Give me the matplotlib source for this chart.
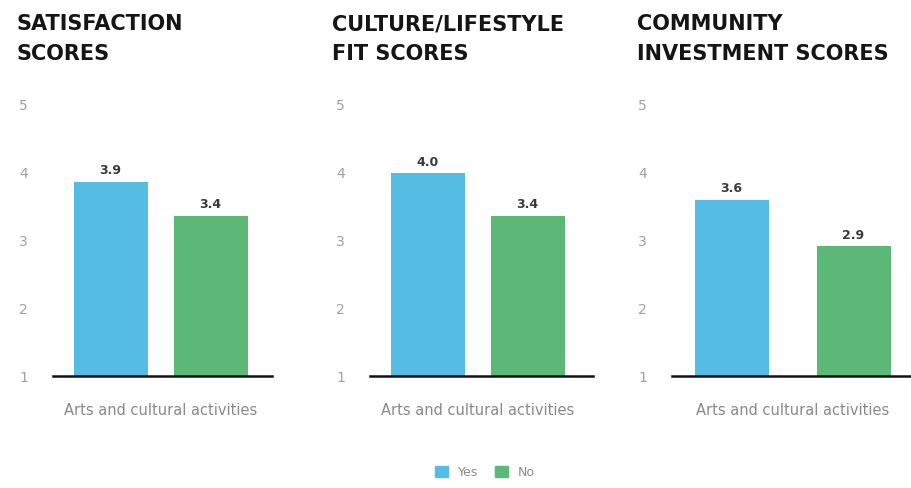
import matplotlib
matplotlib.use("Agg")
import matplotlib.pyplot as plt
from matplotlib.patches import Patch

# data
titles = ["SATISFACTION\nSCORES", "CULTURE/LIFESTYLE\nFIT SCORES", "COMMUNITY\nINVESTMENT SCORES"]
category = "Arts and cultural activities"
series = ["Yes", "No"]
yes_scores = [3.86, 3.98, 3.59]
no_scores = [3.36, 3.36, 2.91]
yticks = [1, 2, 3, 4, 5]

BLUE = "#55bce3"
GREEN = "#5cb877"

W, H = 911, 489
fig = plt.figure(figsize=(W / 100, H / 100), dpi=100)

# panel layout in pixels: axis left, axis right, px per bar step, first bar offset
panels = [
    (53, 272, 100, 57.5),
    (370, 593, 100, 57.5),
    (672, 935, 122, 59.5),
]
title_x = [17, 332, 637]
bar_w_px = 74
y_base, y_top = 377, 105

for i, (x0, x1, step, off) in enumerate(panels):
    ax = fig.add_axes([x0 / W, (H - y_base) / H, (x1 - x0) / W, (y_base - y_top) / H])
    ax.set_xlim(-off / step, (x1 - x0 - off) / step)
    ax.set_ylim(1, 5)
    vals = [yes_scores[i], no_scores[i]]
    bars = ax.bar([0, 1], [v - 1 for v in vals], bottom=1, width=bar_w_px / step,
                  color=[BLUE, GREEN], zorder=2)
    for b, v in zip(bars, vals):
        ax.annotate(f"{v:.1f}", (b.get_x() + b.get_width() / 2, v),
                    xytext=(0, 4), textcoords="offset points",
                    ha="center", va="bottom", fontsize=9, color="#3a3a3a",
                    fontweight="semibold")
    for s in ["top", "right", "left"]:
        ax.spines[s].set_visible(False)
    ax.spines["bottom"].set_linewidth(1.8)
    ax.spines["bottom"].set_color("#111111")
    ax.set_yticks(yticks)
    ax.tick_params(axis="y", length=0, pad=18, labelsize=10, labelcolor="#a0a0a0")
    ax.set_xticks([0.5])
    ax.set_xticklabels([category])
    ax.tick_params(axis="x", length=0, pad=19, labelsize=10.5, labelcolor="#8a8a8a")
    fig.text(title_x[i] / W, 1 - 14 / H, titles[i], ha="left", va="top",
             fontsize=15, fontweight="bold", color="#151515", linespacing=1.6)

handles = [Patch(color=BLUE, label=series[0]), Patch(color=GREEN, label=series[1])]
fig.legend(handles=handles, loc="center", bbox_to_anchor=(485 / W, 1 - 473 / H),
           ncol=2, frameon=False, fontsize=9, labelcolor="#8a8a8a",
           handlelength=1.0, handleheight=1.0, handletextpad=0.8, columnspacing=1.4)

fig.savefig("out.png", dpi=100)
